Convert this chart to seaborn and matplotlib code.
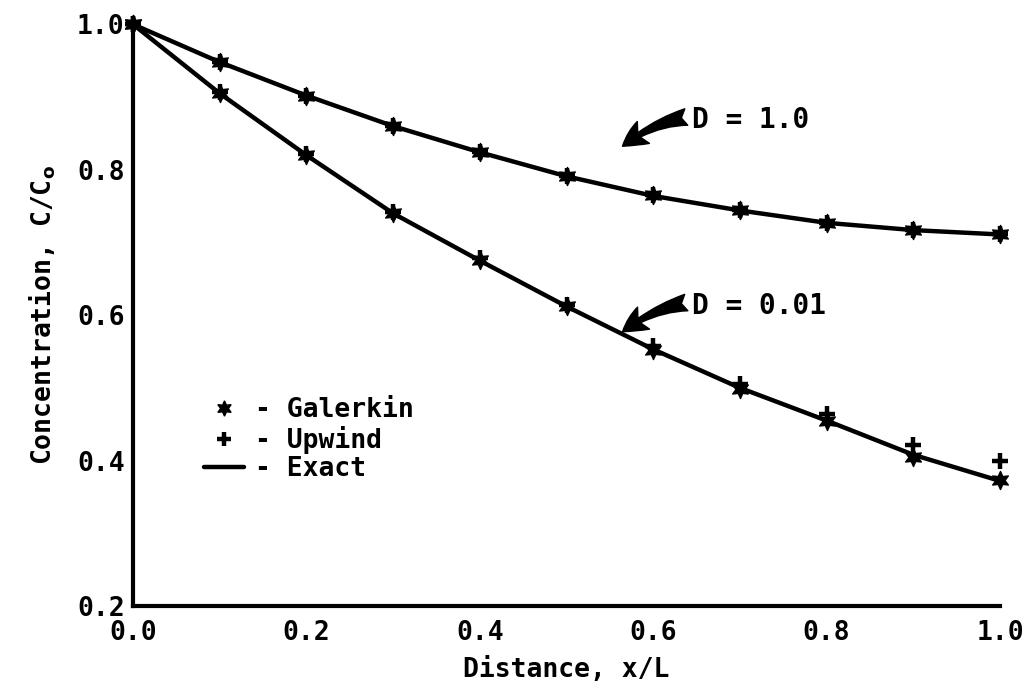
import pandas as pd
import matplotlib.pyplot as plt
import seaborn as sns
from matplotlib.lines import Line2D

# =====================================
# Data
# =====================================

x_pos = [0.0, 0.1, 0.2, 0.3, 0.4, 0.5, 0.6, 0.7, 0.8, 0.9, 1.0]

exact_d1 = [1.0, 0.948, 0.902, 0.860, 0.824, 0.791, 0.764, 0.744, 0.727, 0.717, 0.711]
galerkin_d1 = [1.0, 0.948, 0.902, 0.860, 0.824, 0.791, 0.765, 0.744, 0.727, 0.717, 0.711]
upwind_d1 = [1.0, 0.948, 0.902, 0.860, 0.824, 0.791, 0.765, 0.744, 0.727, 0.717, 0.711]

exact_d001 = [1.0, 0.905, 0.820, 0.740, 0.675, 0.612, 0.553, 0.500, 0.455, 0.408, 0.372]
galerkin_d001 = [1.0, 0.905, 0.820, 0.740, 0.676, 0.612, 0.552, 0.498, 0.455, 0.405, 0.373]
upwind_d001 = [1.0, 0.907, 0.822, 0.742, 0.678, 0.614, 0.558, 0.506, 0.464, 0.421, 0.399]

x_ticks = [0.0, 0.2, 0.4, 0.6, 0.8, 1.0]
y_ticks = [0.2, 0.4, 0.6, 0.8, 1.0]

# =====================================
# Build frames
# =====================================

exact = pd.DataFrame({
    "x": x_pos * 2,
    "c": exact_d1 + exact_d001,
    "D": ["1.0"] * len(x_pos) + ["0.01"] * len(x_pos),
})
galerkin = pd.DataFrame({"x": x_pos * 2, "c": galerkin_d1 + galerkin_d001})
upwind = pd.DataFrame({"x": x_pos * 2, "c": upwind_d1 + upwind_d001})

# =====================================
# Plot
# =====================================

sns.set_theme(style="white")
plt.rcParams["font.family"] = ["DejaVu Sans Mono"]
plt.rcParams["font.weight"] = "bold"
plt.rcParams["text.color"] = "black"
plt.rcParams["axes.labelcolor"] = "black"
plt.rcParams["xtick.color"] = "black"
plt.rcParams["ytick.color"] = "black"

fig = plt.figure(figsize=(10.31, 6.95), dpi=100)
ax = fig.add_axes([0.129, 0.128, 0.841, 0.837])

sns.lineplot(data=exact, x="x", y="c", units="D", estimator=None,
             color="black", linewidth=3.2, ax=ax, legend=False)

sns.scatterplot(data=galerkin, x="x", y="c", marker=(6, 1, 0), s=170,
                color="black", edgecolor="black", linewidth=1, ax=ax,
                legend=False, zorder=3, clip_on=False)
sns.scatterplot(data=upwind, x="x", y="c", marker="+", s=130,
                color="black", linewidth=3.2, ax=ax, legend=False,
                zorder=3, clip_on=False)

ax.set_xlim(0, 1.0)
ax.set_ylim(0.2, 1.0)
ax.set_xticks(x_ticks)
ax.set_yticks(y_ticks)
ax.set_xticklabels([f"{t:.1f}" for t in x_ticks], fontsize=19, fontweight="bold")
ax.set_yticklabels([f"{t:.1f}" for t in y_ticks], fontsize=19, fontweight="bold")
ax.tick_params(axis="x", length=0, pad=10)
ax.tick_params(axis="y", length=0, pad=6)

ax.set_xlabel("Distance, x/L", fontsize=19, fontweight="bold", labelpad=8)
ax.set_ylabel("Concentration, C/C$_\\mathbf{o}$", fontsize=19,
              fontweight="bold", labelpad=14)

for side in ["top", "right"]:
    ax.spines[side].set_visible(False)
for side in ["left", "bottom"]:
    ax.spines[side].set_linewidth(3)
    ax.spines[side].set_color("black")

# curved arrows with labels
arrow = dict(arrowstyle="fancy,head_length=0.9,head_width=0.9,tail_width=0.6",
             connectionstyle="arc3,rad=0.25", color="black")
ax.annotate("D = 1.0", xy=(0.562, 0.830), xytext=(0.645, 0.868),
            fontsize=20, fontweight="bold", va="center", arrowprops=arrow)
ax.annotate("D = 0.01", xy=(0.562, 0.575), xytext=(0.645, 0.612),
            fontsize=20, fontweight="bold", va="center", arrowprops=arrow)

# legend
handles = [
    Line2D([], [], color="black", marker=(6, 1, 0), markersize=11,
           linestyle="none"),
    Line2D([], [], color="black", marker="+", markersize=10,
           markeredgewidth=3.2, linestyle="none"),
    Line2D([], [], color="black", linewidth=3.2),
]
labels = ["- Galerkin", "- Upwind", "- Exact"]
ax.legend(handles, labels, loc="upper left", bbox_to_anchor=(0.055, 0.40),
          frameon=False, handlelength=1.5, handletextpad=0.4,
          labelspacing=0.1, prop={"family": "DejaVu Sans Mono",
                                  "weight": "bold", "size": 19})

fig.savefig("out.png", dpi=100)
plt.close()
